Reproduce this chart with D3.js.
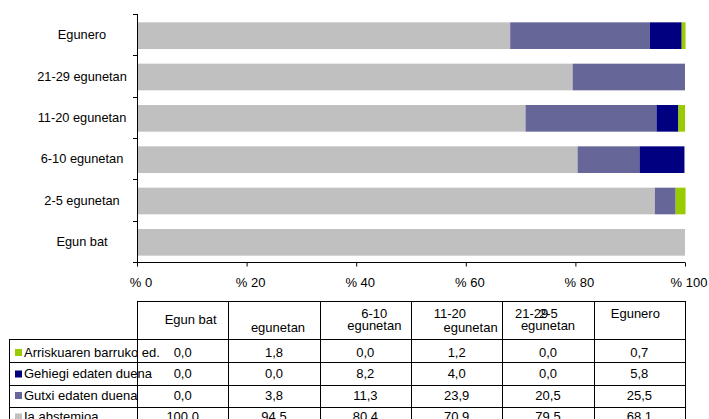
<!DOCTYPE html>
<html>
<head>
<meta charset="utf-8">
<script src="https://cdn.jsdelivr.net/npm/d3@7/dist/d3.min.js"></script>
<style>
  html, body { margin: 0; padding: 0; background: #fff; }
  svg { display: block; font-family: "Liberation Sans", Arial, sans-serif; }
</style>
</head>
<body>
<svg id="chart" width="709" height="419"></svg>
<script>
// ---- data ----
const categories = ["Egun bat", "2-5 egunetan", "6-10 egunetan", "11-20 egunetan", "21-29 egunetan", "Egunero"];
const seriesNames = ["Ia abstemioa", "Gutxi edaten duena", "Gehiegi edaten duena", "Arriskuaren barruko ed."];
const iaAbstemioa = [100.0, 94.5, 80.4, 70.9, 79.5, 68.1];
const gutxiEdaten = [0.0, 3.8, 11.3, 23.9, 20.5, 25.5];
const gehiegiEdaten = [0.0, 0.0, 8.2, 4.0, 0.0, 5.8];
const arriskuarenBarruko = [0.0, 1.8, 0.0, 1.2, 0.0, 0.7];
const xTicks = [0, 20, 40, 60, 80, 100];
const tableHeaderLines = [["Egun bat"], ["egunetan"], ["6-10", "egunetan"], ["11-20", "egunetan"], ["21-29", "2-5", "egunetan"], ["Egunero"]];

const seriesValues = [iaAbstemioa, gutxiEdaten, gehiegiEdaten, arriskuarenBarruko];
const colors = ["#C0C0C0", "#666699", "#000080", "#99CC00"];

const svg = d3.select("#chart");

// ---- scales ----
const plotLeft = 137, plotRight = 685, plotTop = 14, plotBottom = 262;
const x = d3.scaleLinear().domain([0, 100]).range([plotLeft, plotRight]);
const yOrder = categories.slice().reverse(); // Egunero at top
const y = d3.scaleBand().domain(yOrder).range([plotTop, plotBottom]).paddingInner(0).paddingOuter(0);
const barH = y.bandwidth() * 0.645;

// stacked data
const rows = categories.map((c, i) => {
  const o = { cat: c };
  seriesNames.forEach((s, k) => o[s] = seriesValues[k][i]);
  return o;
});
const stack = d3.stack().keys(seriesNames)(rows);

const gBars = svg.append("g");
stack.forEach((layer, k) => {
  gBars.selectAll(null).data(layer).enter().append("rect")
    .attr("x", d => x(d[0]))
    .attr("width", d => Math.max(0, x(d[1]) - x(d[0])))
    .attr("y", d => y(d.data.cat) + (y.bandwidth() - barH) / 2 + 1)
    .attr("height", barH)
    .attr("fill", colors[k]);
});

// ---- axes ----
const axisColor = "#000";
// vertical axis
svg.append("line").attr("x1", plotLeft + 0.5).attr("x2", plotLeft + 0.5)
  .attr("y1", plotTop).attr("y2", plotBottom).attr("stroke", axisColor);
const yBounds = yOrder.map(c => y(c)).concat([plotBottom]);
svg.selectAll(null).data(yBounds).enter().append("line")
  .attr("x1", plotLeft - 4).attr("x2", plotLeft)
  .attr("y1", d => Math.round(d) + 0.5).attr("y2", d => Math.round(d) + 0.5)
  .attr("stroke", axisColor);
svg.selectAll(null).data(yOrder).enter().append("text")
  .attr("x", 82).attr("y", d => y(d) + y.bandwidth() / 2 + 4.5)
  .attr("text-anchor", "middle").attr("font-size", 12.8).attr("fill", "#000")
  .text(d => d);

// horizontal axis
const xAxis = d3.axisBottom(x).tickValues(xTicks).tickSize(4).tickPadding(11)
  .tickFormat(d => "% " + d);
const gx = svg.append("g").attr("transform", `translate(0,${plotBottom + 0.5})`).call(xAxis);
gx.select(".domain").attr("stroke", axisColor).attr("d", `M${plotLeft},0H${plotRight}`);
gx.selectAll(".tick line").attr("stroke", axisColor);
gx.selectAll(".tick text").attr("font-size", 13).attr("fill", "#000").attr("dx", 3.5)
  .attr("font-family", "Liberation Sans, Arial, sans-serif");

// ---- data table ----
const tTop = 301, hBottom = 339, rowH = 22.75, legLeft = 9;
const colEdges = d3.range(categories.length + 1).map(i => plotLeft + i * (plotRight - plotLeft) / categories.length);
const colCenter = i => (colEdges[i] + colEdges[i + 1]) / 2;
const tableRows = seriesNames.slice().reverse();
const tableVals = seriesValues.slice().reverse();
const tableColors = colors.slice().reverse();
const tBottom = hBottom + rowH * tableRows.length;

const gT = svg.append("g").attr("stroke", "#000").attr("stroke-width", 1);
gT.append("line").attr("x1", plotLeft).attr("x2", plotRight).attr("y1", tTop + 0.5).attr("y2", tTop + 0.5);
[hBottom].concat(tableRows.map((r, i) => hBottom + rowH * (i + 1))).forEach(yy => {
  gT.append("line").attr("x1", legLeft).attr("x2", plotRight)
    .attr("y1", Math.round(yy) + 0.5).attr("y2", Math.round(yy) + 0.5);
});
gT.append("line").attr("x1", legLeft + 0.5).attr("x2", legLeft + 0.5).attr("y1", hBottom).attr("y2", tBottom);
colEdges.forEach(cx => {
  gT.append("line").attr("x1", Math.round(cx) + 0.5).attr("x2", Math.round(cx) + 0.5)
    .attr("y1", tTop).attr("y2", tBottom);
});

// header texts (Excel-style wrapped labels)
const headerPlacement = [
  [{ dx: 8, y: 324, a: "middle" }],
  [{ dx: 4, y: 332, a: "middle" }],
  [{ dx: 9, y: 318, a: "middle" }, { dx: 9, y: 330, a: "middle" }],
  [{ dx: -23, y: 318, a: "start" }, { dx: 41, y: 332, a: "end" }],
  [{ dx: -33, y: 318, a: "start" }, { dx: -9, y: 318, a: "start" }, { dx: 0, y: 330, a: "middle" }],
  [{ dx: -4, y: 318, a: "middle" }]
];
tableHeaderLines.forEach((lines, i) => {
  lines.forEach((t, j) => {
    const p = headerPlacement[i][j];
    svg.append("text").attr("x", colCenter(i) + p.dx).attr("y", p.y)
      .attr("text-anchor", p.a).attr("font-size", 13).attr("fill", "#000").text(t);
  });
});

// legend + values
const fmt = v => v.toFixed(1).replace(".", ",");
const textBase0 = 356.5, textStep = 21.5;
tableRows.forEach((name, r) => {
  const base = textBase0 + textStep * r;
  svg.append("rect").attr("x", 15).attr("y", base - 7.5).attr("width", 7).attr("height", 7)
    .attr("fill", tableColors[r]);
  svg.append("text").attr("x", 24).attr("y", base).attr("font-size", 13).attr("fill", "#000").text(name);
  tableVals[r].forEach((v, c) => {
    svg.append("text").attr("x", colCenter(c)).attr("y", base)
      .attr("text-anchor", "middle").attr("font-size", 13).attr("fill", "#000").text(fmt(v));
  });
});
</script>
</body>
</html>
